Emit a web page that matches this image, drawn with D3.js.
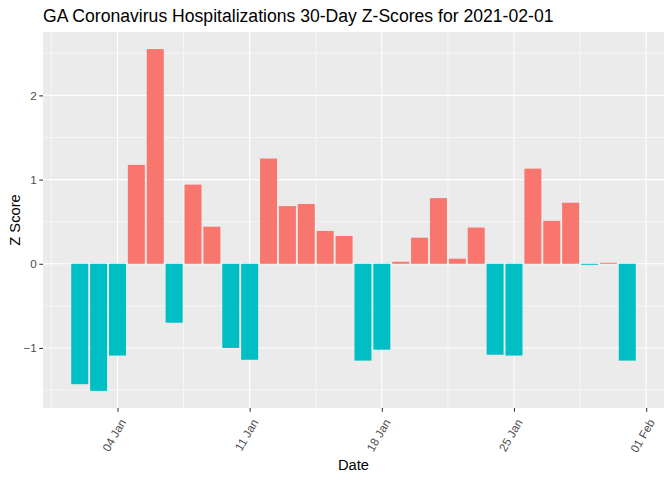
<!DOCTYPE html>
<html>
<head>
<meta charset="utf-8">
<script src="https://cdn.jsdelivr.net/npm/d3@7"></script>
<style>
  body { margin: 0; background: #fff; }
  text { font-family: "Liberation Sans", Arial, sans-serif; }
</style>
</head>
<body>
<div id="chart"></div>
<script>
// chart values
var dates = ["2021-01-02", "2021-01-03", "2021-01-04", "2021-01-05", "2021-01-06",
  "2021-01-07", "2021-01-08", "2021-01-09", "2021-01-10", "2021-01-11",
  "2021-01-12", "2021-01-13", "2021-01-14", "2021-01-15", "2021-01-16",
  "2021-01-17", "2021-01-18", "2021-01-19", "2021-01-20", "2021-01-21",
  "2021-01-22", "2021-01-23", "2021-01-24", "2021-01-25", "2021-01-26",
  "2021-01-27", "2021-01-28", "2021-01-29", "2021-01-30", "2021-01-31"];
var zScores = [-1.43, -1.51, -1.09, 1.175, 2.55,
  -0.70, 0.94, 0.44, -1.00, -1.14,
  1.25, 0.685, 0.71, 0.39, 0.33,
  -1.15, -1.02, 0.024, 0.31, 0.78,
  0.06, 0.43, -1.08, -1.09, 1.13,
  0.51, 0.725, -0.012, 0.012, -1.15];
var xTickDates = ["2021-01-04", "2021-01-11", "2021-01-18", "2021-01-25", "2021-02-01"];
var yTicks = [-1, 0, 1, 2];
var yMinorTicks = [-1.5, -0.5, 0.5, 1.5, 2.5];

var svgWidth = 672;
var svgHeight = 480;

var margin = { top: 32, right: 8, bottom: 72, left: 43 };
var chartWidth = svgWidth - margin.left - margin.right;
var chartHeight = svgHeight - margin.top - margin.bottom;

var parseDate = d3.utcParse("%Y-%m-%d");
var DAY = 864e5;

var data = dates.map(function(d, i) {
  return { date: parseDate(d), z: zScores[i] };
});

var svg = d3.select("#chart")
  .append("svg")
  .attr("width", svgWidth)
  .attr("height", svgHeight);

var chartGroup = svg.append("g")
  .attr("transform", `translate(${margin.left}, ${margin.top})`);

// scales with ggplot-style 5% expansion
var barW = 0.9 * DAY;
var xMin = +d3.min(data, d => d.date) - barW / 2;
var xMax = +d3.max(data, d => d.date) + barW / 2;
var xPad = (xMax - xMin) * 0.05;
var xScale = d3.scaleUtc()
  .domain([new Date(xMin - xPad), new Date(xMax + xPad)])
  .range([0, chartWidth]);

var yMin = Math.min(0, d3.min(zScores));
var yMax = Math.max(0, d3.max(zScores));
var yPad = (yMax - yMin) * 0.05;
var yScale = d3.scaleLinear()
  .domain([yMin - yPad, yMax + yPad])
  .range([chartHeight, 0]);

// panel
chartGroup.append("rect")
  .attr("width", chartWidth)
  .attr("height", chartHeight)
  .attr("fill", "#EBEBEB");

var xMajor = xTickDates.map(parseDate);
var xMinor = [new Date(+xMajor[0] - 3.5 * DAY)].concat(
  xMajor.slice(0, -1).map(d => new Date(+d + 3.5 * DAY)));

// minor grid
chartGroup.selectAll(".ygridMinor")
  .data(yMinorTicks)
  .enter()
  .append("line")
  .attr("x1", 0).attr("x2", chartWidth)
  .attr("y1", d => yScale(d)).attr("y2", d => yScale(d))
  .attr("stroke", "#fff").attr("stroke-width", 0.55);

chartGroup.selectAll(".xgridMinor")
  .data(xMinor)
  .enter()
  .append("line")
  .attr("y1", 0).attr("y2", chartHeight)
  .attr("x1", d => xScale(d)).attr("x2", d => xScale(d))
  .attr("stroke", "#fff").attr("stroke-width", 0.55);

// major grid
chartGroup.selectAll(".ygrid")
  .data(yTicks)
  .enter()
  .append("line")
  .attr("x1", 0).attr("x2", chartWidth)
  .attr("y1", d => yScale(d)).attr("y2", d => yScale(d))
  .attr("stroke", "#fff").attr("stroke-width", 1.1);

chartGroup.selectAll(".xgrid")
  .data(xMajor)
  .enter()
  .append("line")
  .attr("y1", 0).attr("y2", chartHeight)
  .attr("x1", d => xScale(d)).attr("x2", d => xScale(d))
  .attr("stroke", "#fff").attr("stroke-width", 1.1);

// bars
var barPx = xScale(new Date(xMin + barW)) - xScale(new Date(xMin));
chartGroup.selectAll(".bar")
  .data(data)
  .enter()
  .append("rect")
  .attr("x", d => xScale(d.date) - barPx / 2)
  .attr("width", barPx)
  .attr("y", d => yScale(Math.max(0, d.z)))
  .attr("height", d => Math.abs(yScale(d.z) - yScale(0)))
  .attr("fill", d => d.z < 0 ? "#00BFC4" : "#F8766D");

// axes
var bottomAxis = d3.axisBottom(xScale)
  .tickValues(xMajor)
  .tickSize(3.7)
  .tickPadding(2)
  .tickFormat(d3.utcFormat("%d %b"));
var leftAxis = d3.axisLeft(yScale)
  .tickValues(yTicks)
  .tickSize(3.7)
  .tickPadding(2.5)
  .tickFormat(d3.format("d"));

var xAxisG = chartGroup.append("g")
  .attr("transform", `translate(0, ${chartHeight})`)
  .call(bottomAxis);
xAxisG.select(".domain").remove();
xAxisG.selectAll("line").attr("stroke", "#333333").attr("stroke-width", 1.07);
xAxisG.selectAll("text")
  .attr("fill", "#4D4D4D")
  .attr("font-size", "11.7px")
  .attr("text-anchor", "end")
  .attr("dy", "0.35em")
  .attr("y", 0)
  .attr("transform", "translate(5, 12) rotate(-60)");

var yAxisG = chartGroup.append("g").call(leftAxis);
yAxisG.select(".domain").remove();
yAxisG.selectAll("line").attr("stroke", "#333333").attr("stroke-width", 1.07);
yAxisG.selectAll("text")
  .attr("fill", "#4D4D4D")
  .attr("font-size", "11.7px");

// titles
svg.append("text")
  .attr("x", margin.left)
  .attr("y", 22)
  .attr("font-size", "17.6px")
  .attr("fill", "#000")
  .text("GA Coronavirus Hospitalizations 30-Day Z-Scores for 2021-02-01");

svg.append("text")
  .attr("x", margin.left + chartWidth / 2)
  .attr("y", 470)
  .attr("text-anchor", "middle")
  .attr("font-size", "14.7px")
  .text("Date");

svg.append("text")
  .attr("transform", `translate(19.5, ${margin.top + chartHeight / 2}) rotate(-90)`)
  .attr("text-anchor", "middle")
  .attr("font-size", "14.7px")
  .text("Z Score");
</script>
</body>
</html>
